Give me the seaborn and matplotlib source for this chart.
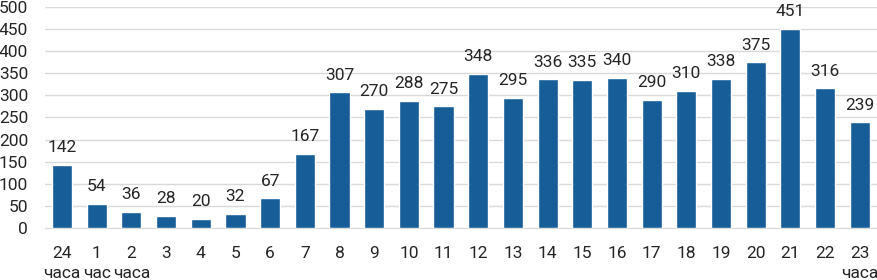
import matplotlib
matplotlib.use("Agg")
import matplotlib.pyplot as plt
import seaborn as sns
import pandas as pd

hours = ["24\nчаса", "1\nчас", "2\nчаса", "3", "4", "5", "6", "7", "8", "9", "10", "11",
         "12", "13", "14", "15", "16", "17", "18", "19", "20", "21", "22", "23\nчаса"]
counts = [142, 54, 36, 28, 20, 32, 67, 167, 307, 270, 288, 275,
          348, 295, 336, 335, 340, 290, 310, 338, 375, 451, 316, 239]

df = pd.DataFrame({"hour": hours, "count": counts})

sns.set_style("white")
plt.rcParams["font.family"] = ["Roboto", "DejaVu Sans"]

fig, ax = plt.subplots(figsize=(8.77, 2.8), dpi=100)
fig.subplots_adjust(left=0.051, right=1.0, bottom=0.186, top=0.975)

sns.barplot(data=df, x="hour", y="count", color="#175d97", saturation=1,
            width=0.58, ax=ax, zorder=3)

ax.bar_label(ax.containers[0], padding=7, fontsize=12.5, color="#262626")

ax.set_ylim(0, 500)
ax.set_yticks(range(0, 501, 50))
ax.yaxis.grid(True, color="#d9d9d9", linewidth=1)
ax.set_axisbelow(True)
for s in ["top", "right", "left"]:
    ax.spines[s].set_visible(False)
ax.spines["bottom"].set_color("#d9d9d9")
ax.tick_params(axis="both", length=0, labelsize=12.5, colors="#262626")
ax.tick_params(axis="x", pad=13)
ax.tick_params(axis="y", pad=12)
for t in ax.get_xticklabels():
    t.set_linespacing(1.45)
ax.set_xlabel("")
ax.set_ylabel("")

fig.savefig("out.png", dpi=100)
